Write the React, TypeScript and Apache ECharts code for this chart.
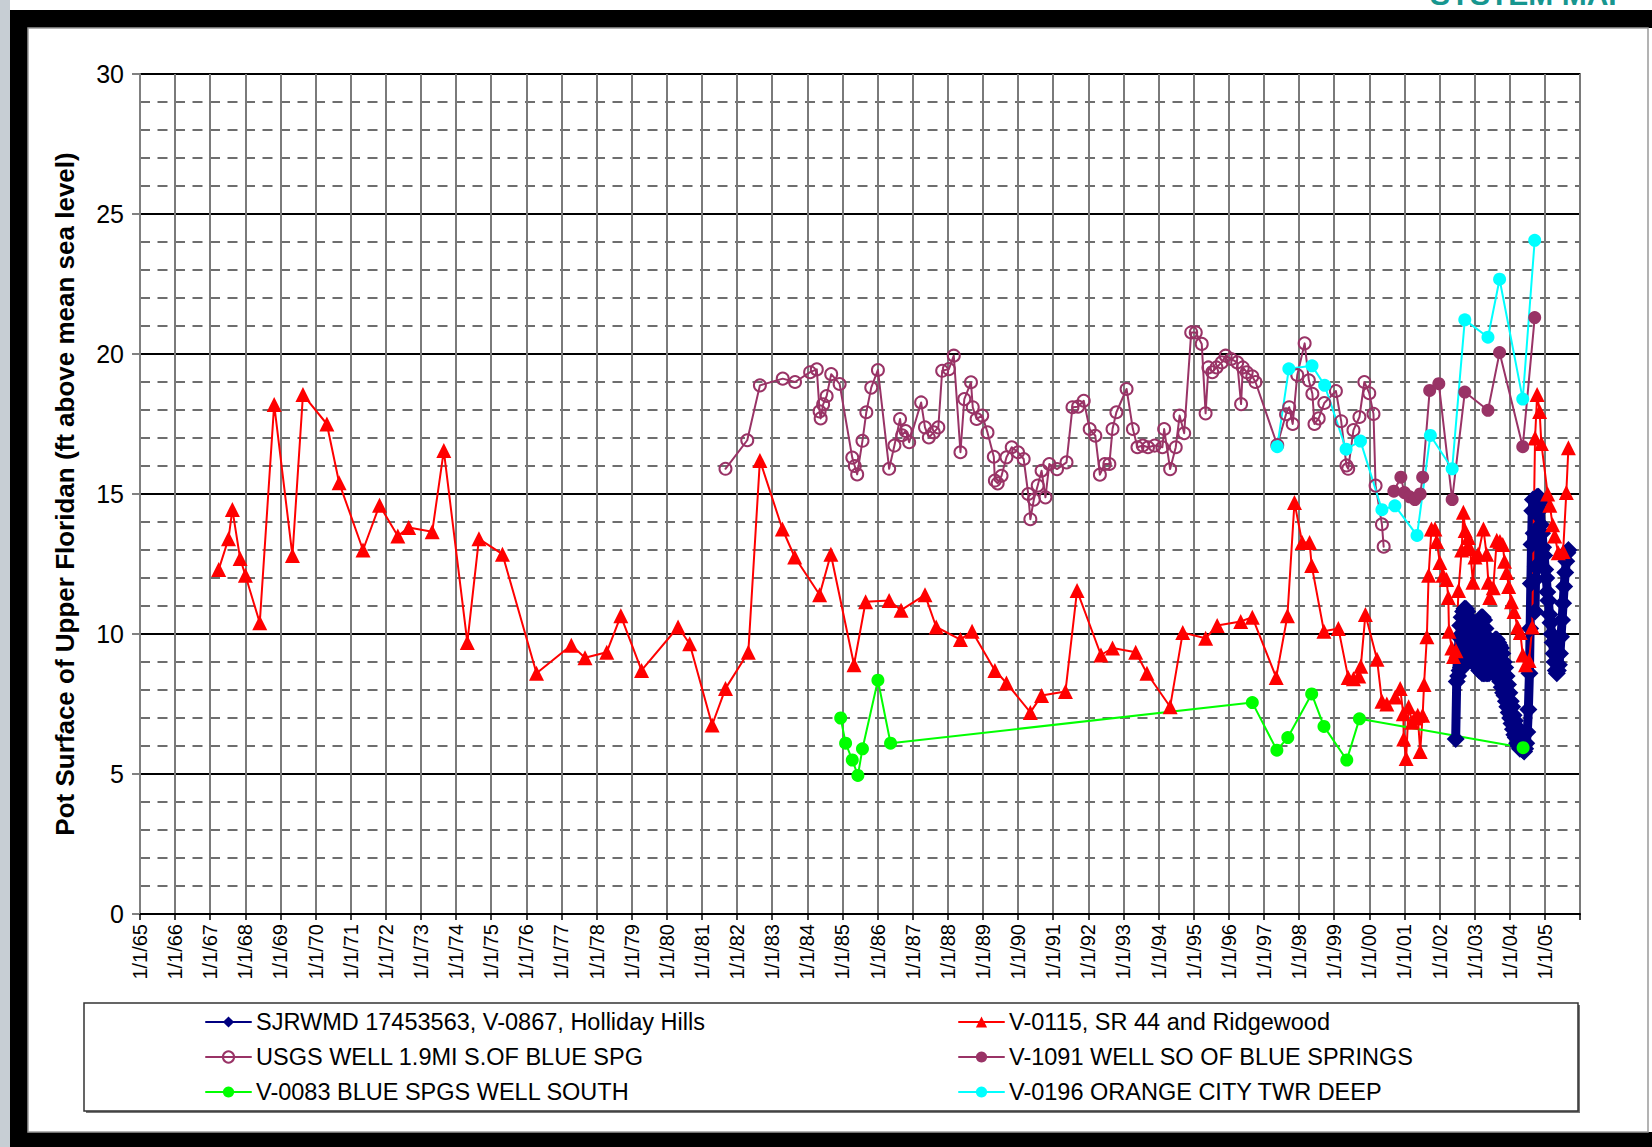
import React, { useEffect, useRef } from 'react';
import * as echarts from 'echarts';

const FONT = '"Liberation Sans", Arial, Helvetica, sans-serif';

const NAME_NAVY = 'SJRWMD 17453563, V-0867, Holliday Hills';
const NAME_RED = 'V-0115, SR 44 and Ridgewood';
const NAME_USGS = 'USGS WELL 1.9MI S.OF BLUE SPG';
const NAME_V1091 = 'V-1091 WELL SO OF BLUE SPRINGS';
const NAME_GREEN = 'V-0083 BLUE SPGS WELL SOUTH';
const NAME_CYAN = 'V-0196 ORANGE CITY TWR DEEP';

const Y_TITLE = 'Pot Surface of Upper Floridan (ft above mean sea level)';
const X_MIN_YEAR = 1965;
const X_MAX_YEAR = 2006;
const X_LAST_LABEL_YEAR = 2005;

// [decimal year, ft]
const navyWell: number[][] = [
  [2002.46, 6.25], [2002.49, 8.3], [2002.51, 9.4], [2002.53, 8.5], [2002.55, 9.9], [2002.57, 8.7],
  [2002.59, 10.3], [2002.61, 8.8], [2002.63, 10.6], [2002.65, 8.9], [2002.67, 10.8], [2002.69, 9.0],
  [2002.71, 10.9], [2002.73, 9.1], [2002.75, 10.9], [2002.77, 9.0], [2002.79, 10.8], [2002.81, 9.0],
  [2002.83, 10.6], [2002.85, 9.1], [2002.87, 10.3], [2002.89, 9.1], [2002.91, 10.1], [2002.93, 9.2],
  [2002.95, 10.1], [2002.97, 9.1], [2002.99, 10.2], [2003.01, 9.0], [2003.03, 10.3], [2003.05, 8.9],
  [2003.07, 10.3], [2003.09, 8.8], [2003.11, 10.4], [2003.13, 8.7], [2003.15, 10.5], [2003.17, 8.7],
  [2003.19, 10.6], [2003.21, 8.6], [2003.23, 10.6], [2003.25, 8.6], [2003.27, 10.5], [2003.29, 8.6],
  [2003.31, 10.2], [2003.33, 8.6], [2003.35, 9.9], [2003.37, 8.6], [2003.39, 9.7], [2003.41, 8.6],
  [2003.43, 9.6], [2003.45, 8.7], [2003.47, 9.6], [2003.49, 8.8], [2003.51, 9.7], [2003.53, 8.8],
  [2003.55, 9.7], [2003.57, 8.7], [2003.59, 9.8], [2003.61, 8.6], [2003.63, 9.8], [2003.65, 8.5],
  [2003.67, 9.7], [2003.69, 8.4], [2003.71, 9.6], [2003.73, 8.3], [2003.75, 9.5], [2003.77, 8.1],
  [2003.79, 9.3], [2003.81, 7.9], [2003.83, 9.0], [2003.85, 7.8], [2003.87, 8.8], [2003.89, 7.6],
  [2003.91, 8.5], [2003.93, 7.4], [2003.95, 8.2], [2003.97, 7.2], [2003.99, 7.9], [2004.01, 7.0],
  [2004.03, 7.6], [2004.05, 6.8], [2004.07, 7.4], [2004.09, 6.6], [2004.11, 7.1], [2004.13, 6.4],
  [2004.15, 6.9], [2004.17, 6.3], [2004.19, 6.7], [2004.21, 6.1], [2004.23, 6.5], [2004.25, 6.0],
  [2004.27, 6.4], [2004.29, 5.9], [2004.31, 6.3], [2004.33, 5.9], [2004.35, 6.1], [2004.38, 5.85],
  [2004.41, 5.8], [2004.44, 5.9], [2004.47, 6.1], [2004.5, 6.5], [2004.53, 7.3], [2004.56, 8.6],
  [2004.58, 10.2], [2004.6, 11.8], [2004.62, 13.2], [2004.64, 14.4], [2004.66, 14.8], [2004.68, 13.6],
  [2004.7, 11.9], [2004.72, 10.8], [2004.74, 12.4], [2004.76, 14.3], [2004.78, 14.9], [2004.8, 14.6],
  [2004.82, 14.9], [2004.84, 14.4], [2004.86, 14.7], [2004.89, 13.9], [2004.92, 13.6], [2004.95, 13.1],
  [2004.98, 12.8], [2005.01, 12.3], [2005.04, 12.0], [2005.07, 11.5], [2005.1, 11.2], [2005.13, 10.7],
  [2005.16, 10.4], [2005.19, 10.0], [2005.22, 9.7], [2005.25, 9.3], [2005.28, 9.0], [2005.31, 8.7],
  [2005.34, 8.6], [2005.37, 8.7], [2005.4, 8.9], [2005.43, 9.3], [2005.46, 9.9], [2005.49, 10.5],
  [2005.52, 11.1], [2005.55, 11.7], [2005.58, 12.2], [2005.61, 12.6], [2005.64, 12.9], [2005.67, 13.0],
];

const redWell: number[][] = [
  [1967.24, 12.3], [1967.52, 13.4], [1967.63, 14.45], [1967.85, 12.7], [1968.0, 12.1], [1968.41, 10.4],
  [1968.82, 18.2], [1969.34, 12.8], [1969.64, 18.55], [1970.32, 17.5], [1970.67, 15.4], [1971.35, 13.0],
  [1971.82, 14.6], [1972.34, 13.5], [1972.65, 13.8], [1973.32, 13.65], [1973.65, 16.55], [1974.32, 9.7],
  [1974.65, 13.4], [1975.32, 12.85], [1976.29, 8.6], [1977.28, 9.6], [1977.67, 9.15], [1978.29, 9.35],
  [1978.69, 10.65], [1979.28, 8.7], [1980.32, 10.25], [1980.65, 9.65], [1981.29, 6.75], [1981.67, 8.05],
  [1982.32, 9.35], [1982.65, 16.2], [1983.29, 13.75], [1983.64, 12.75], [1984.35, 11.4], [1984.67, 12.85],
  [1985.33, 8.9], [1985.66, 11.15], [1986.33, 11.2], [1986.67, 10.85], [1987.35, 11.4], [1987.67, 10.25],
  [1988.36, 9.8], [1988.69, 10.1], [1989.34, 8.7], [1989.67, 8.25], [1990.35, 7.2], [1990.67, 7.8],
  [1991.35, 7.95], [1991.68, 11.55], [1992.36, 9.25], [1992.69, 9.5], [1993.35, 9.35], [1993.67, 8.6],
  [1994.33, 7.4], [1994.69, 10.05], [1995.34, 9.85], [1995.67, 10.3], [1996.34, 10.45], [1996.67, 10.6],
  [1997.35, 8.45], [1997.67, 10.65], [1997.87, 14.7], [1998.09, 13.27], [1998.3, 13.27], [1998.36, 12.45],
  [1998.71, 10.1], [1999.12, 10.2], [1999.4, 8.45], [1999.55, 8.4], [1999.7, 8.5], [1999.76, 8.85],
  [1999.89, 10.7], [2000.22, 9.1], [2000.36, 7.6], [2000.5, 7.5], [2000.74, 7.75], [2000.88, 8.05],
  [2000.97, 7.15], [2000.98, 6.25], [2001.05, 5.55], [2001.12, 7.4], [2001.22, 6.85], [2001.3, 7.0],
  [2001.38, 7.1], [2001.45, 5.8], [2001.52, 7.1], [2001.56, 8.2], [2001.64, 9.9], [2001.69, 12.1],
  [2001.77, 13.75], [2001.87, 13.75], [2001.92, 13.3], [2002.01, 12.55], [2002.1, 12.1], [2002.2, 11.95],
  [2002.25, 11.3], [2002.27, 10.1], [2002.35, 9.5], [2002.4, 9.2], [2002.47, 9.4], [2002.54, 11.55],
  [2002.63, 13.0], [2002.68, 14.35], [2002.73, 13.7], [2002.77, 13.05], [2002.82, 13.45], [2002.87, 13.05],
  [2002.95, 11.85], [2003.01, 12.75], [2003.1, 12.85], [2003.25, 13.75], [2003.34, 12.85], [2003.39, 11.85],
  [2003.43, 11.3], [2003.53, 11.65], [2003.63, 13.35], [2003.72, 13.3], [2003.8, 13.2], [2003.85, 12.6],
  [2003.91, 12.2], [2003.97, 11.7], [2004.05, 11.15], [2004.12, 10.8], [2004.22, 10.25], [2004.3, 10.05],
  [2004.37, 9.25], [2004.45, 8.9], [2004.55, 9.05], [2004.64, 10.25], [2004.72, 17.0], [2004.78, 18.55],
  [2004.85, 17.95], [2004.9, 16.8], [2005.08, 15.0], [2005.14, 14.6], [2005.22, 13.9], [2005.28, 13.5],
  [2005.38, 12.9], [2005.52, 12.95], [2005.61, 15.05], [2005.67, 16.65],
];

const usgsWell: number[][] = [
  [1981.67, 15.9], [1982.29, 16.92], [1982.65, 18.88], [1983.3, 19.12], [1983.65, 19.0], [1984.08, 19.35],
  [1984.27, 19.45], [1984.35, 17.95], [1984.38, 17.7], [1984.45, 18.2], [1984.55, 18.5], [1984.68, 19.28],
  [1984.92, 18.93], [1985.28, 16.3], [1985.35, 16.0], [1985.42, 15.7], [1985.57, 16.9], [1985.68, 17.92],
  [1985.82, 18.8], [1986.01, 19.43], [1986.33, 15.9], [1986.48, 16.73], [1986.64, 17.68], [1986.7, 17.1],
  [1986.8, 17.25], [1986.9, 16.85], [1987.24, 18.27], [1987.35, 17.38], [1987.46, 17.02], [1987.6, 17.2],
  [1987.73, 17.38], [1987.84, 19.4], [1988.03, 19.46], [1988.17, 19.94], [1988.36, 16.49], [1988.47, 18.39],
  [1988.66, 18.99], [1988.71, 18.1], [1988.82, 17.68], [1988.98, 17.8], [1989.13, 17.2], [1989.31, 16.33],
  [1989.34, 15.48], [1989.42, 15.38], [1989.53, 15.65], [1989.67, 16.31], [1989.82, 16.67], [1990.0, 16.49],
  [1990.16, 16.25], [1990.29, 15.0], [1990.35, 14.1], [1990.45, 14.8], [1990.56, 15.3], [1990.67, 15.83],
  [1990.78, 14.88], [1990.89, 16.07], [1991.11, 15.89], [1991.38, 16.13], [1991.55, 18.1], [1991.71, 18.12],
  [1991.87, 18.33], [1992.04, 17.32], [1992.2, 17.08], [1992.33, 15.69], [1992.47, 16.07], [1992.6, 16.07],
  [1992.69, 17.32], [1992.8, 17.92], [1993.09, 18.75], [1993.27, 17.32], [1993.4, 16.67], [1993.55, 16.73],
  [1993.7, 16.67], [1993.89, 16.73], [1994.11, 16.67], [1994.16, 17.32], [1994.33, 15.89], [1994.49, 16.67],
  [1994.6, 17.8], [1994.73, 17.17], [1994.93, 20.77], [1995.06, 20.77], [1995.23, 20.36], [1995.34, 17.88],
  [1995.42, 19.52], [1995.53, 19.35], [1995.65, 19.52], [1995.8, 19.7], [1995.91, 19.94], [1996.07, 19.82],
  [1996.24, 19.7], [1996.35, 18.21], [1996.4, 19.52], [1996.51, 19.35], [1996.67, 19.2], [1996.76, 19.0],
  [1997.38, 16.75], [1997.63, 17.85], [1997.72, 18.1], [1997.82, 17.5], [1997.95, 19.25], [1998.16, 20.38],
  [1998.28, 19.06], [1998.38, 18.58], [1998.44, 17.5], [1998.56, 17.7], [1998.72, 18.25], [1999.05, 18.68],
  [1999.2, 17.6], [1999.35, 16.02], [1999.4, 15.9], [1999.55, 17.28], [1999.72, 17.75], [1999.86, 19.0],
  [2000.0, 18.6], [2000.12, 17.86], [2000.18, 15.3], [2000.36, 13.92], [2000.41, 13.12],
];

const v1091Well: number[][] = [
  [2000.7, 15.1], [2000.9, 15.6], [2001.0, 15.05], [2001.15, 14.9], [2001.3, 14.8], [2001.45, 15.0],
  [2001.52, 15.6], [2001.72, 18.7], [2001.98, 18.94], [2002.36, 14.8], [2002.72, 18.64], [2003.38, 17.99],
  [2003.71, 20.05], [2004.37, 16.69], [2004.71, 21.3],
];

const greenWell: number[][] = [
  [1984.95, 7.0], [1985.09, 6.1], [1985.28, 5.5], [1985.44, 4.95], [1985.57, 5.9], [1986.01, 8.35],
  [1986.37, 6.1], [1996.67, 7.55], [1997.37, 5.85], [1997.68, 6.3], [1998.36, 7.86], [1998.71, 6.7],
  [1999.36, 5.5], [1999.72, 6.97], [2004.38, 5.94],
];

const cyanWell: number[][] = [
  [1997.38, 16.69], [1997.71, 19.47], [1998.37, 19.58], [1998.73, 18.88], [1999.34, 16.6], [1999.75, 16.89],
  [2000.36, 14.44], [2000.73, 14.58], [2001.36, 13.52], [2001.74, 17.09], [2002.36, 15.9], [2002.72, 21.22],
  [2003.38, 20.6], [2003.71, 22.67], [2004.37, 18.39], [2004.71, 24.06],
];

function xLabel(v: number): string {
  if (v > X_LAST_LABEL_YEAR) return '';
  const yy = String(Math.round(v) % 100).padStart(2, '0');
  return `1/1/${yy}`;
}

function lineSeries(
  name: string, data: number[][], symbol: string, size: number, color: string,
  hollow = false, width = 2,
) {
  return {
    name,
    type: 'line',
    data,
    symbol,
    symbolSize: size,
    showSymbol: true,
    showAllSymbol: true,
    clip: true,
    lineStyle: { color, width, join: 'round', cap: 'round' },
    itemStyle: hollow
      ? { color: 'rgba(255,255,255,0)', borderColor: color, borderWidth: 2 }
      : { color, borderColor: color, borderWidth: 0 },
    emphasis: { disabled: true },
  };
}

const legendCommon = {
  orient: 'vertical',
  itemWidth: 45,
  itemHeight: 14,
  itemGap: 11,
  top: 1005,
  selectedMode: false,
  lineStyle: { width: 2 },
  textStyle: { fontFamily: FONT, fontSize: 23.5, color: '#000', lineHeight: 24 },
};

const option: any = {
  animation: false,
  backgroundColor: '#ffffff',
  textStyle: { fontFamily: FONT },
  graphic: [
    { type: 'rect', z: -10, shape: { x: 0, y: 0, width: 10, height: 1147 }, style: { fill: '#c7ced4' } },
    { type: 'rect', z: -10, shape: { x: 10, y: 10, width: 1642, height: 18 }, style: { fill: '#000' } },
    { type: 'rect', z: -10, shape: { x: 10, y: 10, width: 18, height: 1137 }, style: { fill: '#000' } },
    { type: 'rect', z: -10, shape: { x: 10, y: 1132, width: 1642, height: 15 }, style: { fill: '#000' } },
    { type: 'rect', z: -10, shape: { x: 28, y: 28, width: 1620, height: 1104 }, style: { fill: '#fff', stroke: '#9a9a9a', lineWidth: 1.5 } },
    { type: 'rect', z: -9, shape: { x: 86, y: 1005, width: 1494, height: 108 }, style: { fill: '#777' } },
    { type: 'rect', z: -8, shape: { x: 84, y: 1003, width: 1494, height: 108 }, style: { fill: '#fff', stroke: '#333', lineWidth: 1.5 } },
    {
      type: 'text', z: -5, x: 1430, y: 9,
      style: { text: 'SYSTEM MAP', fill: '#17968f', font: `bold 30px ${FONT}`, verticalAlign: 'bottom' },
    },
  ],
  grid: {
    left: 140, top: 74, width: 1440, height: 840,
    show: true, borderColor: '#808080', borderWidth: 2, backgroundColor: 'rgba(0,0,0,0)',
  },
  xAxis: {
    type: 'value',
    min: X_MIN_YEAR,
    max: X_MAX_YEAR,
    interval: 1,
    axisLine: { show: true, onZero: false, lineStyle: { color: '#000', width: 2 } },
    axisTick: { show: true, length: 6, lineStyle: { color: '#000', width: 1.5 } },
    axisLabel: {
      rotate: 90, fontSize: 20, color: '#000', margin: 10, fontFamily: FONT,
      showMinLabel: true, showMaxLabel: true, formatter: xLabel,
    },
    splitLine: { show: true, lineStyle: { color: '#7a7a7a', width: 2 } },
  },
  yAxis: {
    type: 'value',
    min: 0,
    max: 30,
    interval: 5,
    name: Y_TITLE,
    nameLocation: 'middle',
    nameRotate: 90,
    nameGap: 62,
    nameTextStyle: { fontSize: 26, fontWeight: 'bold', color: '#000', fontFamily: FONT },
    axisLine: { show: true, lineStyle: { color: '#808080', width: 2 } },
    axisTick: { show: true, length: 8, lineStyle: { color: '#808080', width: 2 } },
    axisLabel: { fontSize: 25, color: '#000', margin: 16, fontFamily: FONT },
    splitLine: { show: true, lineStyle: { color: '#000', width: 2 } },
    minorTick: { show: false, splitNumber: 5 },
    minorSplitLine: { show: true, lineStyle: { color: '#6e6e6e', width: 2, type: [10, 7.5] } },
  },
  legend: [
    { ...legendCommon, left: 200, data: [NAME_NAVY, NAME_USGS, NAME_GREEN] },
    { ...legendCommon, left: 953, data: [NAME_RED, NAME_V1091, NAME_CYAN] },
  ],
  series: [
    lineSeries(NAME_NAVY, navyWell, 'diamond', 18, '#000080', false, 9),
    lineSeries(NAME_RED, redWell, 'triangle', 15, '#ff0000'),
    lineSeries(NAME_USGS, usgsWell, 'circle', 12, '#993366', true),
    lineSeries(NAME_V1091, v1091Well, 'circle', 13, '#993366'),
    lineSeries(NAME_GREEN, greenWell, 'circle', 13, '#00ff00'),
    lineSeries(NAME_CYAN, cyanWell, 'circle', 13, '#00ffff'),
  ],
};

export default function App() {
  const ref = useRef<HTMLDivElement>(null);
  useEffect(() => {
    if (!ref.current) return;
    const chart = echarts.init(ref.current, null, { renderer: 'svg', width: 1652, height: 1147 });
    chart.setOption(option);
    return () => chart.dispose();
  }, []);
  return (
    <div
      ref={ref}
      style={{ position: 'fixed', left: 0, top: 0, width: 1652, height: 1147, background: '#fff' }}
    />
  );
}
